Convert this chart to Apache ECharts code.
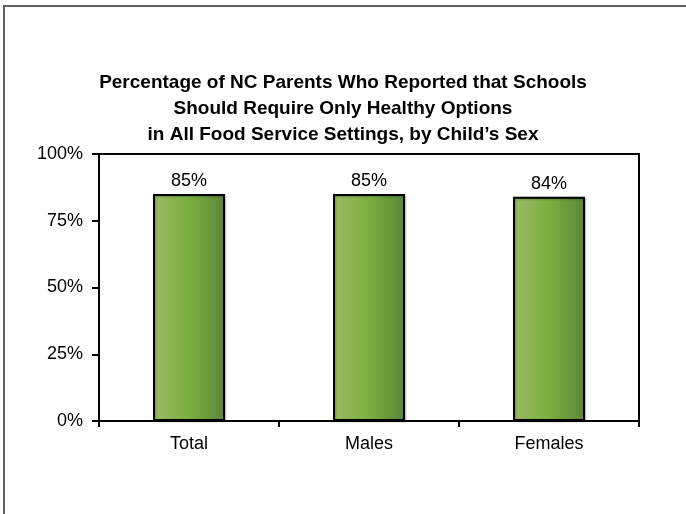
<!DOCTYPE html>
<html>
<head>
<meta charset="utf-8">
<script src="https://cdn.jsdelivr.net/npm/echarts@6/dist/echarts.min.js"></script>
<style>
html,body{margin:0;padding:0;background:#fff;}
#chart{width:686px;height:514px;}
</style>
</head>
<body>
<div id="chart"></div>
<script>
var titleText = "Percentage of NC Parents Who Reported that Schools\nShould Require Only Healthy Options\nin All Food Service Settings, by Child\u2019s Sex";
var categories = ["Total", "Males", "Females"];
var values = [85, 85, 84];
var yTicks = [0, 25, 50, 75, 100];

var chart = echarts.init(document.getElementById('chart'), null, {renderer: 'canvas'});
var font = '"Liberation Sans", Arial, sans-serif';
chart.setOption({
  animation: false,
  graphic: [{
    type: 'rect', silent: true,
    shape: {x: 4, y: 6, width: 720, height: 600},
    style: {fill: 'none', stroke: '#606060', lineWidth: 2}
  }],
  title: {
    text: titleText,
    left: 'center',
    top: 65,
    textStyle: {fontFamily: font, fontSize: 19, fontWeight: 'bold', color: '#000', lineHeight: 26}
  },
  grid: {left: 99, right: 47, top: 154, bottom: 93, show: true, borderColor: '#000', borderWidth: 2, backgroundColor: 'transparent'},
  xAxis: {
    type: 'category',
    data: categories,
    axisLine: {lineStyle: {color: '#000', width: 2}},
    axisTick: {show: true, length: 6, lineStyle: {color: '#000', width: 2}},
    axisLabel: {fontFamily: font, fontSize: 18, color: '#000', margin: 14}
  },
  yAxis: {
    type: 'value',
    min: yTicks[0], max: yTicks[yTicks.length - 1], interval: 25,
    axisLine: {show: true, lineStyle: {color: '#000', width: 2}},
    axisTick: {show: true, length: 7, lineStyle: {color: '#000', width: 2}},
    splitLine: {show: false},
    axisLabel: {fontFamily: font, fontSize: 18, color: '#000', margin: 16, formatter: '{value}%'}
  },
  series: [{
    type: 'bar',
    data: values,
    barWidth: '40%',
    itemStyle: {
      color: new echarts.graphic.LinearGradient(0, 0, 1, 0, [
        {offset: 0, color: '#9cbc68'},
        {offset: 0.5, color: '#7cae3e'},
        {offset: 1, color: '#5b8639'}
      ]),
      borderColor: '#000',
      borderWidth: 2,
      shadowColor: 'rgba(0,0,0,0.25)',
      shadowBlur: 2,
      shadowOffsetX: 1,
      shadowOffsetY: 1
    },
    label: {
      show: true, position: 'top', distance: 4,
      fontFamily: font, fontSize: 18, color: '#000',
      formatter: '{c}%'
    }
  }]
});
</script>
</body>
</html>
